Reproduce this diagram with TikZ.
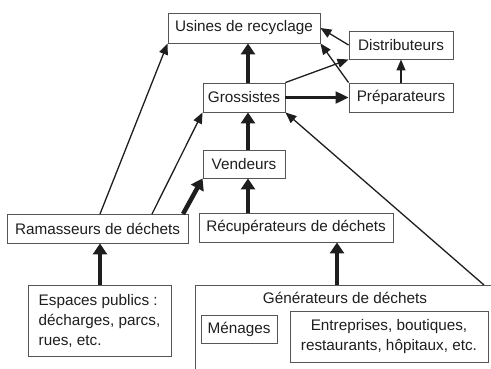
\documentclass[tikz,border=0pt]{standalone}
\usepackage{fontspec}
\setmainfont{Liberation Sans}
\usetikzlibrary{arrows.meta,calc}
\definecolor{ink}{HTML}{1E1E1E}
\definecolor{frame}{HTML}{555555}
\tikzset{
  box/.style={draw=frame, line width=0.9pt, fill=white, inner sep=0pt, align=center,
    font=\fontsize{15.3}{20}\selectfont, text=ink},
  thinarrow/.style={draw=ink, line width=1.3pt, -{Triangle[length=11pt,width=9pt]}},
  midarrow/.style={draw=ink, line width=2.2pt, -{Triangle[length=13pt,width=12pt]}},
  bigarrow/.style={draw=ink, line width=4.5pt, -{Triangle[length=11pt,width=14pt]}},
}
\begin{document}
\begin{tikzpicture}[x=1pt,y=-1pt]
\useasboundingbox (0,0) rectangle (491,368);
\clip (0,0) rectangle (491,368);
% nodes
\node[box, minimum width=152, minimum height=30] (usines) at (244,28) {Usines de recyclage};
\node[box, minimum width=104, minimum height=28] (distrib) at (401,45) {Distributeurs};
\node[box, minimum width=104, minimum height=29] (prep) at (401,97.5) {Préparateurs};
\node[box, minimum width=82, minimum height=29] (gross) at (244,97.5) {Grossistes};
\node[box, minimum width=82, minimum height=28] (vend) at (244,164) {Vendeurs};
\node[box, minimum width=181, minimum height=29] (ramass) at (97.5,228.5) {Ramasseurs de déchets};
\node[box, minimum width=194, minimum height=29] (recup) at (296,227.5) {Récupérateurs de déchets};
\node[box, minimum width=143, minimum height=71, align=left] (espaces) at (99.5,320.5)
  {Espaces publics :\\décharges, parcs,\\rues, etc.};
\node[box, anchor=north west, minimum width=320, minimum height=110] (gen) at (195,285) {};
\node[font=\fontsize{15.3}{20}\selectfont, text=ink, inner sep=0pt] (gentitle) at (345,298) {Générateurs de déchets};
\node[box, minimum width=76, minimum height=28] (menages) at (239,329) {Ménages};
\node[box, minimum width=198, minimum height=51] (entre) at (389,336.5)
  {Entreprises, boutiques,\\restaurants, hôpitaux, etc.};
% coordinates
\coordinate (g1) at (337,285);
\coordinate (g2) at (484,285);
\coordinate (r1) at (100,214);
\coordinate (r2) at (152,214);
\coordinate (r3) at (183,214);
% connectors
\draw[bigarrow] ([xshift=4]gross.north) -- ([xshift=4]usines.south);
\draw[bigarrow] ([xshift=4]vend.north) -- ([xshift=4]gross.south);
\draw[bigarrow] ([xshift=4]recup.north -| vend.south) -- ([xshift=4]vend.south);
\draw[bigarrow] (r3) -- (vend.south west);
\draw[bigarrow] (espaces.north -| r1) -- (ramass.south -| r1);
\draw[bigarrow] (g1) -- (g1 |- recup.south);
\draw[midarrow] (gross.east) -- (prep.west);
\draw[thinarrow] (distrib.west) -- (usines.east);
\draw[thinarrow] (prep.north west) -- (usines.south east);
\draw[thinarrow] (gross.north east) -- (distrib.south west);
\draw[thinarrow] (prep.north) -- (distrib.south);
\draw[thinarrow] (r1) -- (usines.south west);
\draw[thinarrow] (r2) -- (gross.south west);
\draw[thinarrow] (g2) -- (gross.south east);
\end{tikzpicture}
\end{document}
